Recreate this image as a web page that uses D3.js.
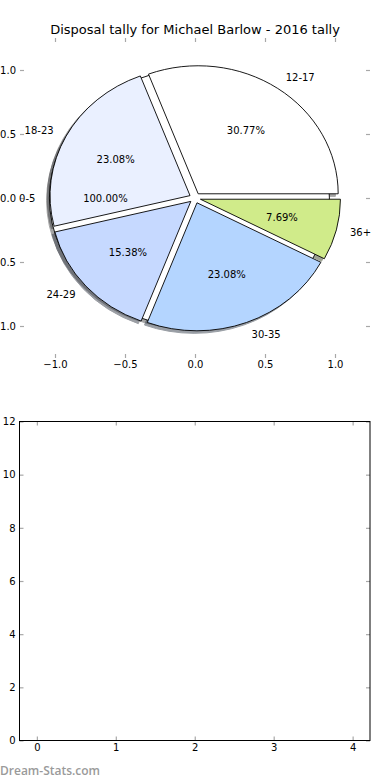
<!DOCTYPE html>
<html>
<head>
<meta charset="utf-8">
<script src="https://cdn.jsdelivr.net/npm/d3@7"></script>
<style>
  html, body { margin: 0; padding: 0; background: #fff; }
  svg { display: block; }
  text { font-family: "DejaVu Sans", sans-serif; }
</style>
</head>
<body>
<script>
// ---- data ----
const title = "Disposal tally for Michael Barlow - 2016 tally";
const ageGroups = ["12-17", "18-23", "24-29", "30-35", "36+"];
const tallies = [4, 3, 2, 3, 1];
const sliceColors = ["#ffffff", "#eaf0ff", "#c6d9ff", "#b4d5ff", "#d0eb8a"];
const strayGroup = ["0-5"];
const strayTally = [1];
const strayColors = ["#ffffff"];
const pieTicks = [-1.0, -0.5, 0.0, 0.5, 1.0];
const barXTicks = [0, 1, 2, 3, 4];
const barYTicks = [0, 2, 4, 6, 8, 10, 12];
const watermark = "Dream-Stats.com";

const W = 390, H = 780;
const svg = d3.select("body").append("svg").attr("width", W).attr("height", H);

// ---- pie axes ----
const explode = 0.04, labelDist = 1.1, pctDist = 0.6;
const px = d3.scaleLinear().domain([-1.25, 1.25]).range([20, 370]);
const py = d3.scaleLinear().domain([-1.25, 1.25]).range([358, 38]);
const fmtTick = v => d3.format(".1f")(v).replace("-", "\u2212");

svg.append("text").attr("x", 195).attr("y", 34).attr("text-anchor", "middle")
  .style("font-size", "13px").style("fill", "#000").text(title);

const tickCol = "#a8a8a8";
function styleAxis(a) {
  a.select(".domain").remove();
  a.selectAll(".tick line").attr("stroke", tickCol).attr("stroke-width", 1.2);
  a.selectAll(".tick text").style("font-size", "10px")
    .style("font-family", "DejaVu Sans").style("fill", "#000");
}
[
  svg.append("g").attr("transform", `translate(0,${py.range()[0]})`)
    .call(d3.axisBottom(px).tickValues(pieTicks).tickSize(-4).tickPadding(3).tickFormat(fmtTick)),
  svg.append("g").attr("transform", `translate(0,${py.range()[1]})`)
    .call(d3.axisTop(px).tickValues(pieTicks).tickSize(-4).tickFormat("")),
  svg.append("g").attr("transform", `translate(${px.range()[0]},0)`)
    .call(d3.axisLeft(py).tickValues(pieTicks).tickSize(-4).tickPadding(4).tickFormat(fmtTick)),
  svg.append("g").attr("transform", `translate(${px.range()[1]},0)`)
    .call(d3.axisRight(py).tickValues(pieTicks).tickSize(-4).tickFormat(""))
].forEach(styleAxis);

const cx = px(0), cy = py(0);
const rx = px(1) - px(0), ry = py(0) - py(1);
const pie = d3.pie().sort(null).startAngle(Math.PI / 2).endAngle(Math.PI / 2 - 2 * Math.PI);
const unitArc = d3.arc().innerRadius(0).outerRadius(1);

function dirOf(a) {
  const m = (a.startAngle + a.endAngle) / 2;
  return [Math.sin(m), -Math.cos(m)];
}

// wedge sets: the stray single-value pie first, then the tallies pie
const sets = [
  { arcs: pie(strayTally), names: strayGroup, colors: strayColors, sum: d3.sum(strayTally) },
  { arcs: pie(tallies), names: ageGroups, colors: sliceColors, sum: d3.sum(tallies) }
];

const shadowG = svg.append("g");
const wedgeG = svg.append("g");
sets.forEach(s => {
  s.arcs.forEach((a, i) => {
    const [dx, dy] = dirOf(a);
    const ox = cx + explode * dx * rx;
    const oy = cy + explode * dy * ry;
    const c = d3.rgb(s.colors[i]);
    const sc = d3.rgb(c.r * 0.3, c.g * 0.3, c.b * 0.3);
    shadowG.append("path")
      .attr("d", unitArc(a))
      .attr("transform", `translate(${ox - 0.02 * rx},${oy + 0.02 * ry}) scale(${rx},${ry})`)
      .attr("fill", sc).attr("stroke", sc).attr("stroke-width", 1)
      .attr("vector-effect", "non-scaling-stroke")
      .attr("opacity", 0.5);
    wedgeG.append("path")
      .attr("d", unitArc(a))
      .attr("transform", `translate(${ox},${oy}) scale(${rx},${ry})`)
      .attr("fill", s.colors[i]).attr("stroke", "#000").attr("stroke-width", 0.9)
      .attr("vector-effect", "non-scaling-stroke");
  });
});

sets.forEach(s => {
  s.arcs.forEach((a, i) => {
    const [dx, dy] = dirOf(a);
    const lx = cx + (explode + labelDist) * dx * rx;
    const ly = cy + (explode + labelDist) * dy * ry;
    svg.append("text").attr("x", lx).attr("y", ly)
      .attr("text-anchor", dx > 1e-9 ? "start" : "end")
      .attr("dominant-baseline", "central")
      .style("font-size", "10px").style("fill", "#000").text(s.names[i]);
    const tx = cx + (explode + pctDist) * dx * rx;
    const ty = cy + (explode + pctDist) * dy * ry;
    svg.append("text").attr("x", tx).attr("y", ty)
      .attr("text-anchor", "middle").attr("dominant-baseline", "central")
      .style("font-size", "10px").style("fill", "#000")
      .text(d3.format(".2f")(100 * a.value / s.sum) + "%");
  });
});

// ---- empty bar axes ----
const bx = d3.scaleLinear().domain([-0.22, 4.22]).range([19.5, 370]);
const by = d3.scaleLinear().domain([0, 12]).range([740.5, 421.5]);
[
  svg.append("g").attr("transform", `translate(0,${by.range()[0]})`)
    .call(d3.axisBottom(bx).tickValues(barXTicks).tickSize(-4).tickPadding(3).tickFormat(d3.format("d"))),
  svg.append("g").attr("transform", `translate(0,${by.range()[1]})`)
    .call(d3.axisTop(bx).tickValues(barXTicks).tickSize(-4).tickFormat("")),
  svg.append("g").attr("transform", `translate(${bx.range()[0]},0)`)
    .call(d3.axisLeft(by).tickValues(barYTicks).tickSize(-4).tickPadding(4).tickFormat(d3.format("d"))),
  svg.append("g").attr("transform", `translate(${bx.range()[1]},0)`)
    .call(d3.axisRight(by).tickValues(barYTicks).tickSize(-4).tickFormat(""))
].forEach(styleAxis);
svg.append("rect")
  .attr("x", bx.range()[0]).attr("y", by.range()[1])
  .attr("width", bx.range()[1] - bx.range()[0]).attr("height", by.range()[0] - by.range()[1])
  .attr("fill", "none").attr("stroke", "#000").attr("stroke-width", 1);

svg.append("text").attr("x", 0).attr("y", 775)
  .style("font-family", "'Open Sans', sans-serif").style("font-weight", "600")
  .style("font-size", "12px").style("fill", "#9a9a9a").text(watermark);
</script>
</body>
</html>
